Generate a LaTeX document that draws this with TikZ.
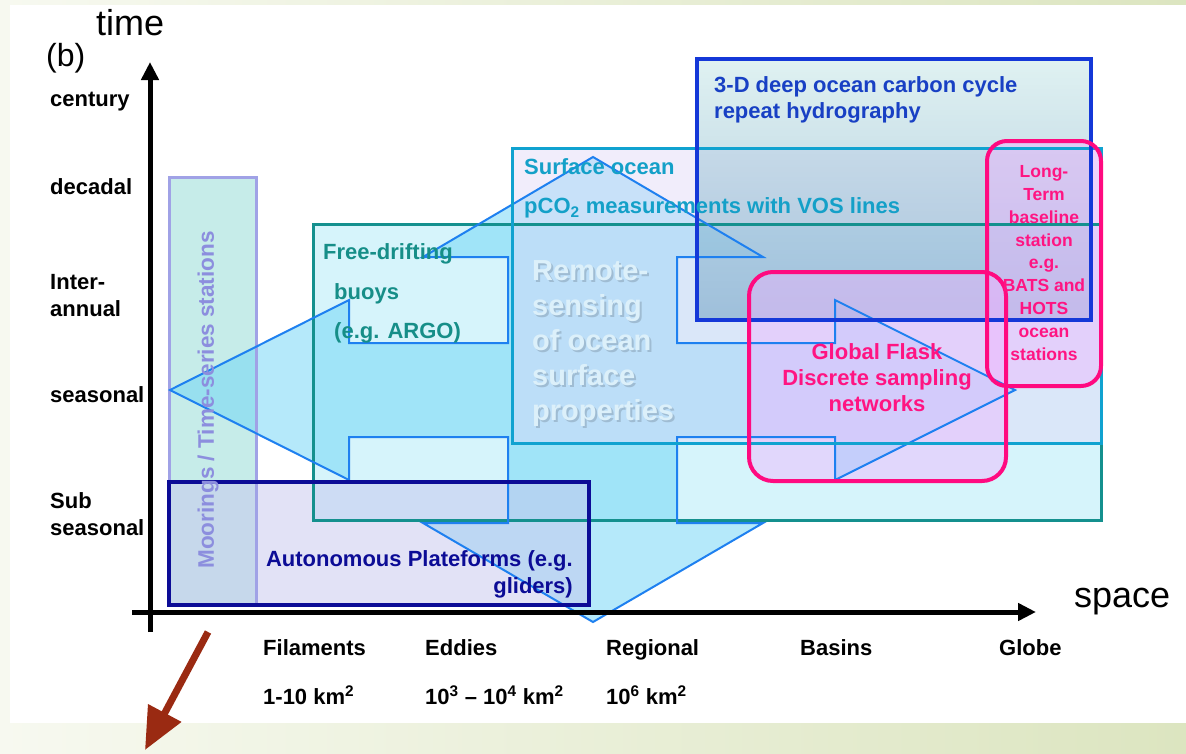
\documentclass[tikz,border=0pt]{standalone}
\usepackage{fontspec}
\setmainfont{Liberation Sans}
\usetikzlibrary{arrows.meta}
\usetikzlibrary{fadings}

\definecolor{bgleft}{HTML}{F7F9F0}
\definecolor{bgright}{HTML}{DCE5C0}
\definecolor{moorfill}{HTML}{C6ECE9}
\definecolor{moorline}{HTML}{A0A2E6}
\definecolor{moortext}{HTML}{8C8EDE}
\definecolor{autofill}{HTML}{C6C6EE}
\definecolor{autoline}{HTML}{0C0C96}
\definecolor{driftfill}{HTML}{D6F4FB}
\definecolor{driftline}{HTML}{14908E}
\definecolor{drifttext}{HTML}{168E88}
\definecolor{surffill}{HTML}{E0D8F8}
\definecolor{surfline}{HTML}{10A2D0}
\definecolor{surftext}{HTML}{14A0C8}
\definecolor{deepfill}{HTML}{A0D8D8}
\definecolor{deepshade}{HTML}{6E96C4}
\definecolor{deepline}{HTML}{1438D8}
\definecolor{deeptext}{HTML}{1840C4}
\definecolor{crossfill}{HTML}{6CD5F6}
\definecolor{crossline}{HTML}{1E80F0}
\definecolor{remotetext}{HTML}{DCF0FA}
\definecolor{flaskfill}{HTML}{F0B4FF}
\definecolor{flaskline}{HTML}{FF0A80}
\definecolor{flasktext}{HTML}{FF1482}
\definecolor{pointer}{HTML}{9A2A12}

\tikzset{
  scalelabel/.style={font=\fontsize{22}{27}\selectfont\bfseries, inner sep=0pt, anchor=west, align=left},
  boxlabel/.style={font=\fontsize{22}{26}\selectfont\bfseries, inner sep=0pt},
  axisword/.style={font=\fontsize{36}{40}\selectfont, inner sep=0pt, anchor=base west},
  axisline/.style={line width=5pt, -{Triangle[length=18pt,width=17pt]}},
}

\begin{document}
\begin{tikzpicture}[x=1pt,y=-1pt]
\useasboundingbox (0,0) rectangle (1186,753);
\fill[left color=bgleft,right color=bgright] (0,0) rectangle (1186,753);
\fill[white] (10,5) rectangle (1186,723);

% corners of the boxes
\coordinate (moor-nw) at (169,177);   \coordinate (moor-se) at (256,605);
\coordinate (auto-nw) at (169,482);   \coordinate (auto-se) at (589,605);
\coordinate (drift-nw) at (313,224);  \coordinate (drift-se) at (1101,520);
\coordinate (surf-nw) at (512,148);   \coordinate (surf-se) at (1101,443);
\coordinate (deep-nw) at (697,59);    \coordinate (deep-se) at (1091,320);
\coordinate (flask-nw) at (749,272);  \coordinate (flask-se) at (1006,481);
\coordinate (long-nw) at (987,141);   \coordinate (long-se) at (1101,386);

\def\crossarrow{(170,390) -- (349,300) -- (349,343) -- (508,343) -- (508,257) -- (423,257)
  -- (593,157) -- (763,257) -- (677,257) -- (677,343) -- (835,343) -- (835,300)
  -- (1015,390) -- (835,480) -- (835,437) -- (677,437) -- (677,523) -- (763,523)
  -- (593,622) -- (423,523) -- (508,523) -- (508,437) -- (349,437) -- (349,480) -- cycle}

% fills
\fill[moorfill] (moor-nw) rectangle (moor-se);
\fill[driftfill] (drift-nw) rectangle (drift-se);
\fill[crossfill, fill opacity=0.5] \crossarrow;
\fill[surffill, fill opacity=0.45] (surf-nw) rectangle (surf-se);
\fill[deepfill, fill opacity=0.32] (deep-nw) rectangle (deep-se);
\fill[deepshade, fill opacity=0.45, path fading=north] (deep-nw) rectangle (deep-se);
\fill[autofill, fill opacity=0.5] (auto-nw) rectangle (auto-se);
\fill[flaskfill, fill opacity=0.45, rounded corners=24pt] (flask-nw) rectangle (flask-se);
\fill[flaskfill, fill opacity=0.45, rounded corners=20pt] (long-nw) rectangle (long-se);

% borders
\draw[moorline, line width=3pt] (moor-nw) rectangle (moor-se);
\draw[driftline, line width=3pt] (drift-nw) rectangle (drift-se);
\draw[crossline, line width=2pt] \crossarrow;
\draw[surfline, line width=3pt] (surf-nw) rectangle (surf-se);
\draw[deepline, line width=3.5pt] (deep-nw) rectangle (deep-se);
\draw[autoline, line width=4pt] (auto-nw) rectangle (auto-se);
\draw[flaskline, line width=4pt, rounded corners=24pt] (flask-nw) rectangle (flask-se);
\draw[flaskline, line width=4pt, rounded corners=20pt] (long-nw) rectangle (long-se);

% texts in the boxes
\node[boxlabel, text=moortext, rotate=90, font=\fontsize{22.5}{26}\selectfont\bfseries] (moorings) at (208,400) {Moorings / Time-series stations};
\node[boxlabel, text=drifttext, anchor=west] (drift1) at (323,254) {Free-drifting};
\node[boxlabel, text=drifttext, anchor=west] (drift2) at (334,294) {buoys};
\node[boxlabel, text=drifttext, anchor=west] (drift3) at (334,333) {(e.g. ARGO)};
\node[boxlabel, text=surftext, anchor=west] (surf1) at (524,167) {Surface ocean};
\node[boxlabel, text=surftext, anchor=west] (surf2) at (524,208) {pCO\textsubscript{2} measurements with VOS lines};
\node[boxlabel, text=deeptext, anchor=west, align=left] (deep) at (714,100) {3-D deep ocean carbon cycle\\repeat hydrography};
\node[boxlabel, text=autoline, anchor=east, align=right, font=\fontsize{22}{27}\selectfont\bfseries] (auto) at (573,574) {Autonomous Plateforms (e.g.\\gliders)};
\node[boxlabel, text=black, opacity=0.15, anchor=west, align=left, font=\fontsize{29}{35}\selectfont\bfseries] (remote-shadow) at (534,346) {Remote-\\sensing\\of ocean\\surface\\properties};
\node[boxlabel, text=remotetext, anchor=west, align=left, font=\fontsize{29}{35}\selectfont\bfseries] (remote) at (532,344) {Remote-\\sensing\\of ocean\\surface\\properties};
\node[boxlabel, text=flasktext, align=center] (flask) at (877,378) {Global Flask\\Discrete sampling\\networks};
\node[boxlabel, text=flasktext, align=center, font=\fontsize{17.5}{22.9}\selectfont\bfseries] (longterm) at (1044,263) {Long-\\Term\\baseline\\station\\e.g.\\BATS and\\HOTS\\ocean\\stations};

% axes
\coordinate (yaxbot) at (150,632);
\coordinate (yaxtop) at (150,62);
\coordinate (xaxleft) at (132,612);
\coordinate (xaxright) at (1036,612);
\draw[axisline] (yaxbot) -- (yaxtop);
\draw[axisline] (xaxleft) -- (xaxright);
\node[axisword] (time) at (96,35) {time};
\node[axisword, font=\fontsize{32}{36}\selectfont] (panel) at (46,66) {(b)};
\node[axisword] (space) at (1074,607) {space};

% time scales
\node[scalelabel] (century) at (50,102) {century};
\node[scalelabel] (decadal) at (50,187) {decadal};
\node[scalelabel] (interannual) at (50,296) {Inter-\\annual};
\node[scalelabel] (seasonal) at (50,395) {seasonal};
\node[scalelabel] (subseasonal) at (50,514) {Sub\\seasonal};

% space scales
\node[scalelabel] (filaments) at (263,648) {Filaments};
\node[scalelabel] (eddies) at (425,648) {Eddies};
\node[scalelabel] (regional) at (606,650) {Regional};
\node[scalelabel] (basins) at (800,648) {Basins};
\node[scalelabel] (globe) at (999,648) {Globe};
\node[scalelabel] (filsize) at (263,695) {1-10 km\textsuperscript{2}};
\node[scalelabel] (eddysize) at (425,695) {10\textsuperscript{3} -- 10\textsuperscript{4} km\textsuperscript{2}};
\node[scalelabel] (regsize) at (606,695) {10\textsuperscript{6} km\textsuperscript{2}};

% pointer
\coordinate (pointstart) at (208,632);
\coordinate (pointend) at (145,750);
\draw[pointer, line width=7pt, -{Triangle[length=42pt,width=36pt]}] (pointstart) -- (pointend);
\end{tikzpicture}
\end{document}
